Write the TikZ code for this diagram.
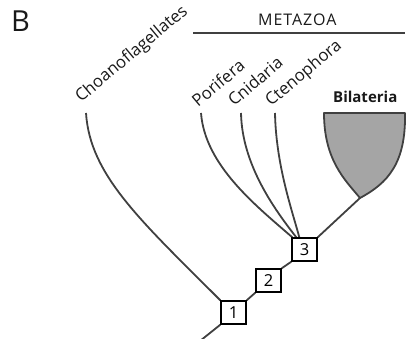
\documentclass[tikz,border=0pt]{standalone}
\usepackage{fontspec}
\setmainfont{Open Sans}
\definecolor{linegray}{RGB}{64,64,64}
\definecolor{conegray}{RGB}{165,165,165}
\tikzset{
  branch/.style={draw=linegray, line width=1.8pt},
  numbox/.style={draw=black, fill=white, line width=1.4pt, minimum width=25pt, minimum height=23pt, inner sep=0pt, font=\fontsize{16.5}{16.5}\selectfont},
  taxon/.style={inner sep=0pt, rotate=40, anchor=base west, font=\fontsize{16.8}{16.8}\selectfont, text=black!90},
  labeltext/.style={inner sep=0pt, text=black!90}
}
\begin{document}
\begin{tikzpicture}[x=1pt,y=-1pt]
\useasboundingbox (0,0) rectangle (406,339);
% labels
\node[labeltext, anchor=base west, font=\fontsize{29}{29}\selectfont] (B) at (11,32) {B};
\node[labeltext, anchor=base west, font=\fontsize{16}{16}\selectfont\addfontfeatures{LetterSpace=6}] (metazoa) at (258,26) {METAZOA};
\coordinate (mzL) at (193,33);
\coordinate (mzR) at (405,33);
\draw[draw=linegray, line width=1.3pt] (mzL) -- (mzR);
\node[taxon] (choano) at (81,103) {Choanoflagellates};
\node[taxon] (porifera) at (198,108) {Porifera};
\node[taxon] (cnidaria) at (234,107) {Cnidaria};
\node[taxon] (cteno) at (271,107) {Ctenophora};
\node[labeltext, anchor=base west, font=\fontsize{15}{15}\selectfont\bfseries] (bilat) at (333,103) {Bilateria};
% leaf tips
\coordinate (tChoano) at (86,113);
\coordinate (tPor) at (201,113);
\coordinate (tCni) at (241,113);
\coordinate (tCte) at (275,113);
\coordinate (apex) at (360,198);
\coordinate (root) at (200,341);
% boxes
\node[numbox] (n1) at (233.5,312.5) {1};
\node[numbox] (n2) at (268.5,280.5) {2};
\node[numbox] (n3) at (304.5,249.5) {3};
% cone
\draw[draw=linegray, fill=conegray, line width=1.8pt, line join=round]
  (324,113) -- (405,113) .. controls (406,163) and (388,183) .. (apex)
  .. controls (345,180) and (324,160) .. cycle;
% branches
\draw[branch] (root) -- (n1.south west);
\draw[branch] (tChoano) .. controls (90,175) and (140,220) .. (n1.north west);
\draw[branch] (n1.north east) -- (n2.south west);
\draw[branch] (n2.north east) -- (n3.south west);
\draw[branch] (n3.north east) -- (apex);
\draw[branch] (tPor) .. controls (205,165) and (255,205) .. ([xshift=1pt]n3.north west);
\draw[branch] (tCni) .. controls (242,165) and (275,210) .. ([xshift=5pt]n3.north west);
\draw[branch] (tCte) .. controls (276,165) and (292,210) .. ([xshift=8pt]n3.north west);
% redraw boxes on top
\node[numbox] at (n1) {1};
\node[numbox] at (n2) {2};
\node[numbox] at (n3) {3};
\end{tikzpicture}
\end{document}
